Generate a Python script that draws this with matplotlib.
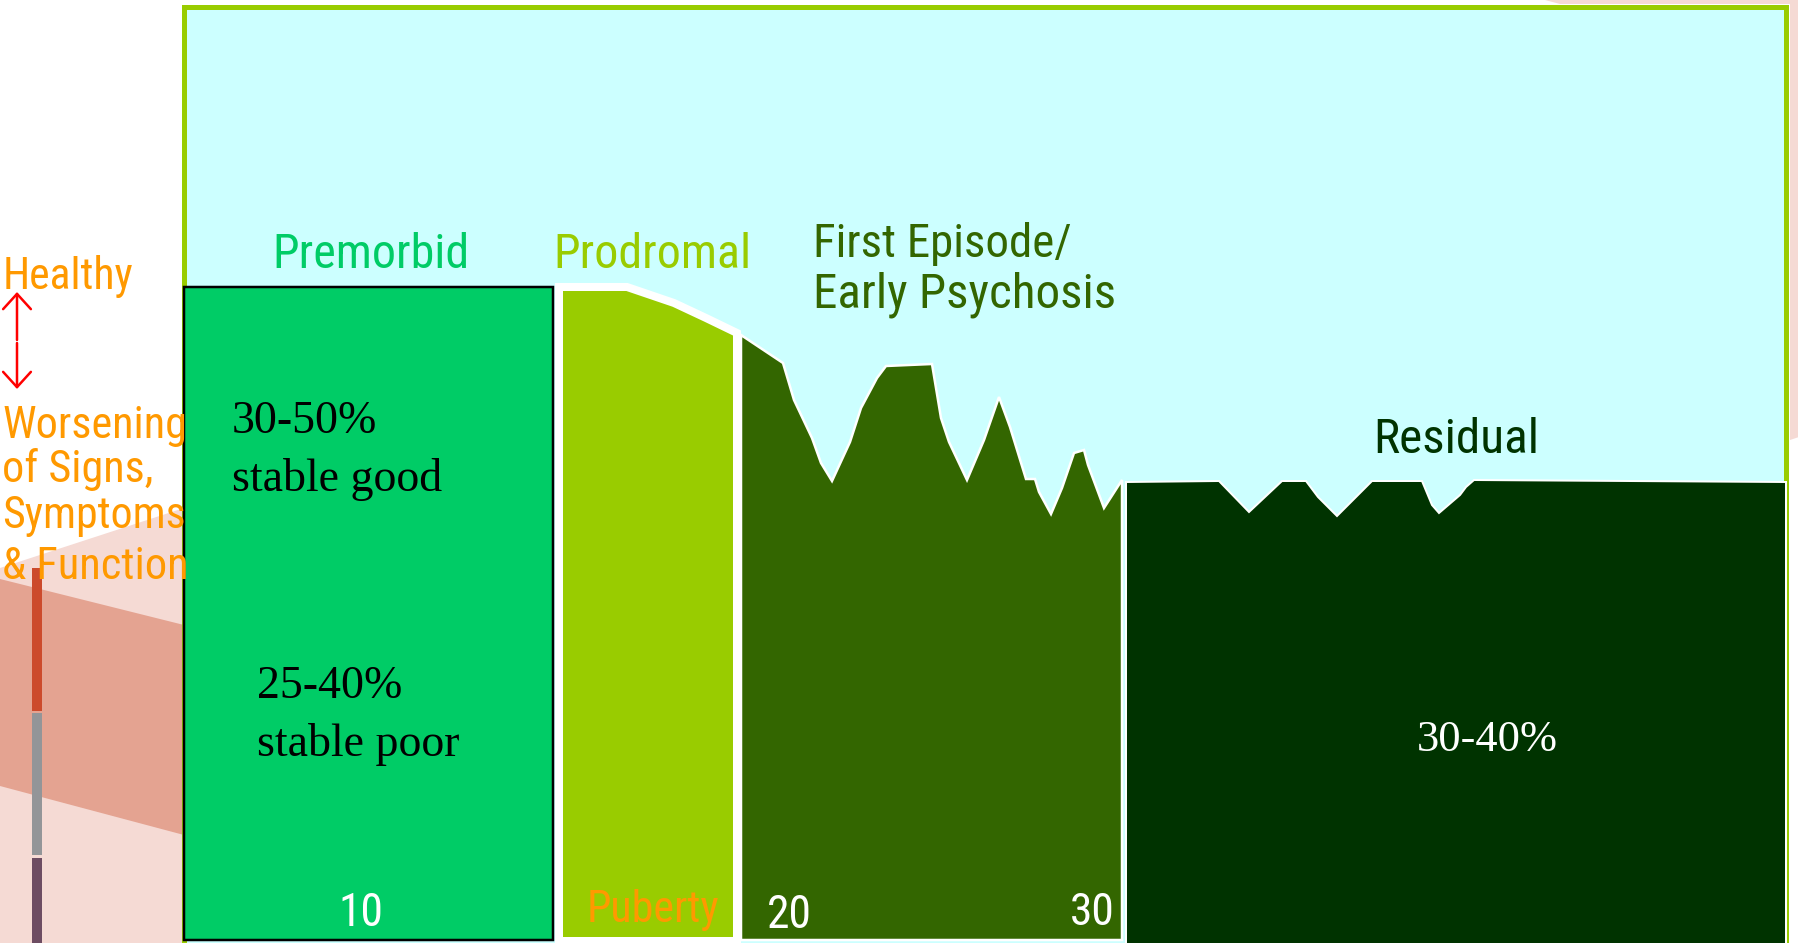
import matplotlib
matplotlib.use("Agg")
import matplotlib.pyplot as plt
from matplotlib import font_manager as fm

# ---- diagram data (canvas units: x to the right, y downward) ----
stages = ["Premorbid", "Prodromal", "First Episode/\nEarly Psychosis", "Residual"]
stage_fill = ["#00CC66", "#99CC00", "#336600", "#003300"]
stage_label_col = ["#00CC66", "#99CC00", "#336600", "#003300"]
stage_edge = ["black", "white", "white", "white"]
stage_edge_px = [2.5, 8, 2.5, 2.0]
stage_bottom = [940, 941, 940, 945]

# top profile of each stage block (functional level over time)
premorbid_x = [184, 553]
premorbid_y = [287, 287]
prodromal_x = [559, 627, 674, 706, 737]
prodromal_y = [287, 287, 303, 318, 333]
episode_x = [741, 783, 794, 812, 821, 832, 850, 861, 877, 886, 932, 941, 949, 967,
             984, 999, 1010, 1026, 1035, 1039, 1051, 1062, 1074, 1084, 1088, 1104, 1122]
episode_y = [335, 363, 400, 438, 463, 481, 442, 408, 378, 366, 364, 418, 442, 480,
             440, 397, 427, 479, 479, 492, 514, 488, 453, 450, 465, 508, 480]
residual_x = [1126, 1219, 1249, 1282, 1306, 1318, 1337, 1372, 1422, 1432, 1439, 1460,
              1466, 1474, 1786]
residual_y = [482, 481, 512, 481, 481, 497, 516, 481, 481, 505, 513, 495, 487, 480, 482]
profiles = [(premorbid_x, premorbid_y), (prodromal_x, prodromal_y),
            (episode_x, episode_y), (residual_x, residual_y)]

# label anchor (left, baseline) and measured widths of each line
stage_label_xy = [(272, 268), (553, 268), (813, 257), (1373, 453)]
stage_label_w = [[197], [198], [259, 303], [166]]

outcome_text = ["30-50%\nstable good", "25-40%\nstable poor", "30-40%"]
outcome_xy = [(232, 433), (257, 698), (1417, 751)]
outcome_col = ["black", "black", "white"]

age_labels = ["10", "20", "30"]
age_x = [361, 767, 1115]
age_y = [926, 928, 925]
age_ha = ["center", "left", "right"]

side_lines = ["Worsening", "of Signs,", "Symptoms", "& Function"]
side_base = [438, 482, 528, 579]
side_w = [185, 151, 184, 187]
bar_cols = ["#CC4A2C", "#939598", "#6D4C62"]
bar_top = [568, 713, 858]
bar_bot = [711, 855, 945]

ORANGE = "#FF9900"
CYAN, FRAME = "#CCFFFF", "#99CC00"
PINK, SALMON = "#F5DAD4", "#E4A391"
SERIF = "Liberation Serif"
px = 0.72  # points per pixel at dpi 100

# prefer a condensed sans face if one is installed
pref = ["Liberation Sans Narrow", "Arial Narrow", "Roboto Condensed", "Open Sans Condensed",
        "DejaVu Sans Condensed", "DejaVu Sans"]
cands = []
for f in fm.fontManager.ttflist:
    if f.style != "normal" or "Serif" in f.name or "Mono" in f.name:
        continue
    if str(f.weight) not in ("400", "normal", "regular", "book"):
        continue
    if "Narrow" in f.name or "Condensed" in f.name or f.stretch in (
            "condensed", "semi-condensed", "extra-condensed"):
        cands.append(f)
cands.sort(key=lambda f: pref.index(f.name) if f.name in pref else 99)
if cands:
    NARROW = fm.FontProperties(fname=cands[0].fname)
else:
    NARROW = fm.FontProperties(family="Liberation Sans")

fig = plt.figure(figsize=(17.99, 9.43), dpi=100)
ax = fig.add_axes([0, 0, 1, 1])
ax.set_xlim(0, 1799); ax.set_ylim(943, 0); ax.axis("off")
rend = fig.canvas.get_renderer()


def fit_text(x, y, s, width, **kw):
    t = ax.text(x, y, s, fontproperties=NARROW, va="baseline", **kw)
    t.set_fontsize(30)
    w = t.get_window_extent(renderer=rend).width
    t.set_fontsize(30 * width / w)
    return t


# slide background pieces
ax.fill([0, 184, 184, 0], [568, 508, 945, 945], color=PINK, lw=0)
ax.fill([0, 184, 184, 0], [579, 625, 835, 786], color=SALMON, lw=0)
ax.fill([1545, 1799, 1799, 1790, 1790, 1560], [0, 0, 437, 440, 4, 4], color=PINK, lw=0)

# framed light-cyan panel
ax.fill([184.5, 1786.5, 1786.5, 184.5], [7, 7, 950, 950], facecolor=CYAN,
        edgecolor=FRAME, lw=5 * px, joinstyle="miter")

# vertical severity bar
for c, t, b in zip(bar_cols, bar_top, bar_bot):
    ax.fill([32, 42, 42, 32], [t, t, b, b], color=c, lw=0)

# stage blocks
for (xs, ys), fc, ec, lw, bot in zip(profiles, stage_fill, stage_edge, stage_edge_px, stage_bottom):
    ax.fill(list(xs) + [xs[-1], xs[0]], list(ys) + [bot, bot],
            facecolor=fc, edgecolor=ec, lw=lw * px, joinstyle="miter")

# stage labels
for s, (x, y), c, ws in zip(stages, stage_label_xy, stage_label_col, stage_label_w):
    for i, (line, w) in enumerate(zip(s.split("\n"), ws)):
        fit_text(x, y + 51 * i, line, w, color=c, ha="left")

# outcome percentages
for s, (x, y), c in zip(outcome_text, outcome_xy, outcome_col):
    for i, line in enumerate(s.split("\n")):
        ax.text(x, y + 58 * i, line, color=c, fontsize=33 if c == "black" else 32,
                family=SERIF, ha="left", va="baseline")

# ages and puberty
for s, x, y, ha in zip(age_labels, age_x, age_y, age_ha):
    fit_text(x, y, s, 45, color="white", ha=ha)
fit_text(587, 922, "Puberty", 133, color=ORANGE, ha="left")

# left-hand scale
fit_text(3, 289, "Healthy", 131, color=ORANGE, ha="left")
for line, b, w in zip(side_lines, side_base, side_w):
    fit_text(2, b, line, w, color=ORANGE, ha="left", zorder=5)
arrow = dict(arrowstyle="->,head_length=0.55,head_width=0.5", color="red", lw=1.8,
             mutation_scale=20, shrinkA=0, shrinkB=0)
ax.annotate("", xy=(17, 292), xytext=(17, 340), arrowprops=arrow)
ax.annotate("", xy=(17, 389), xytext=(17, 343), arrowprops=arrow)

fig.savefig("out.png", dpi=100)
